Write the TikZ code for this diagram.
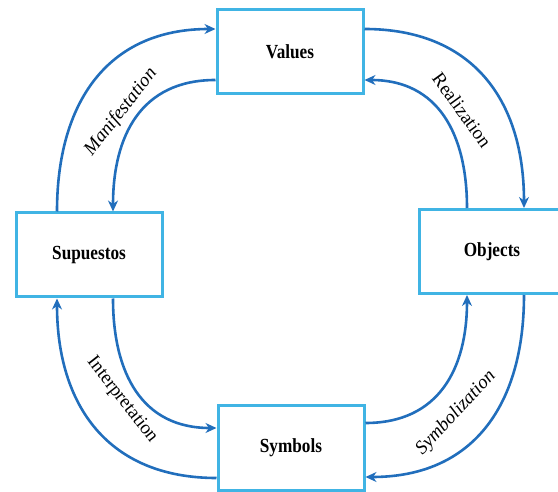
\documentclass[tikz,border=0pt]{standalone}
\usepackage{fontspec}
\setmainfont{Liberation Serif}
\newfontfamily\boxfont[FakeStretch=0.86]{Liberation Serif}
\usetikzlibrary{arrows.meta}
\definecolor{boxblue}{RGB}{64,180,228}
\definecolor{arrblue}{RGB}{33,110,188}

\begin{document}
\begin{tikzpicture}[x=1pt,y=1pt,
    stage/.style={draw=boxblue,line width=3pt,fill=white,minimum width=146pt,
      minimum height=84pt,font=\boxfont\bfseries\fontsize{20}{23}\selectfont},
    flow/.style={draw=arrblue,line width=2.6pt,-{Stealth[length=11pt,width=10pt]}},
    tag/.style={font=\fontsize{19}{22}\selectfont},
    itag/.style={font=\fontsize{19}{22}\selectfont\itshape}]
    \useasboundingbox (0,0) rectangle (558,491);

    \node[stage] (values) at (290,439) {Values};
    \node[stage] (supuestos) at (89,236) {Supuestos};
    \node[stage] (objects) at (492,239.5) {Objects};
    \node[stage] (symbols) at (291,43) {Symbols};

    \draw[flow] ([xshift=-32pt]supuestos.north) to[out=90,in=180,looseness=1.15] ([yshift=23pt]values.west);
    \draw[flow] ([yshift=-28pt]values.west) to[out=180,in=90,looseness=1.15] ([xshift=24pt]supuestos.north);
    \draw[flow] ([yshift=23pt]values.east) to[out=0,in=90,looseness=1.15] ([xshift=32pt]objects.north);
    \draw[flow] ([xshift=-25pt]objects.north) to[out=90,in=0,looseness=1.15] ([yshift=-28pt]values.east);
    \draw[flow] ([xshift=32pt]objects.south) to[out=-90,in=0,looseness=1.15] ([yshift=-29pt]symbols.east);
    \draw[flow] ([yshift=25pt]symbols.east) to[out=0,in=-90,looseness=1.15] ([xshift=-25pt]objects.south);
    \draw[flow] ([yshift=-30pt]symbols.west) to[out=180,in=-90,looseness=1.15] ([xshift=-32pt]supuestos.south);
    \draw[flow] ([xshift=24pt]supuestos.south) to[out=-90,in=180,looseness=1.15] ([yshift=20pt]symbols.west);

    % labels on the arcs
    \node[itag,rotate=52] (manif) at (121,379) {Manifestation};
    \node[tag,rotate=-54] (real) at (462,381) {Realization};
    \node[tag,rotate=-52] (interp) at (122,91) {Interpretation};
    \node[itag,rotate=47] (symb) at (456,78) {Symbolization};
\end{tikzpicture}
\end{document}
